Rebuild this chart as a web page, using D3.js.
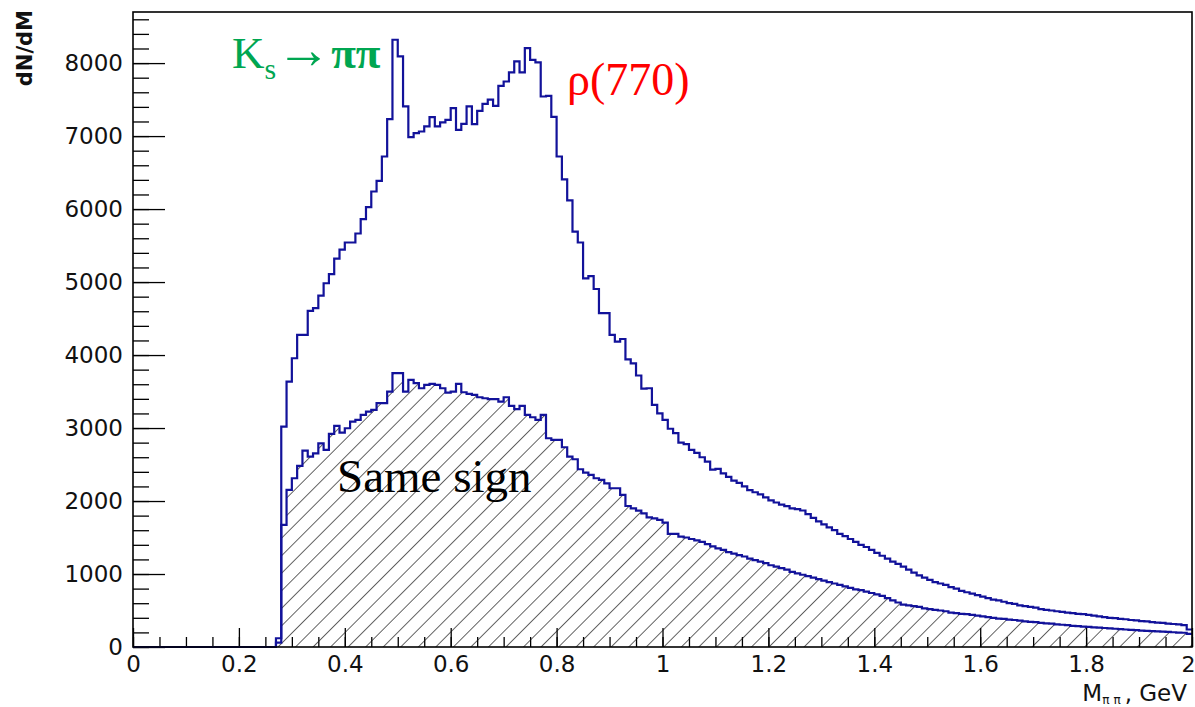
<!DOCTYPE html>
<html>
<head>
<meta charset="utf-8">
<script src="https://cdn.jsdelivr.net/npm/d3@7"></script>
<style>
  body { margin: 0; background: #fff; }
  svg { display: block; }
</style>
</head>
<body>
<svg id="chart" width="1195" height="707"></svg>
<script>
// Invariant-mass spectrum of pion pairs, 200 bins of 10 MeV from 0 to 2 GeV.
const binEdges = [0, 2];
const nBins = 200;

// Opposite-sign pairs, counts per bin
const allPairs = [
  0,0,0,0,0,0,0,0,0,0, 0,0,0,0,0,0,0,0,0,0, 0,0,0,0,0,0,0,120,3020,3636,
  3956,4276,4276,4605,4642,4815,4984,5110,5320,5445, 5542,5542,5665,5862,6026,6241,6387,6720,7232,8320,
  8091,7406,6986,7040,7063,7132,7260,7132,7187,7223, 7383,7086,7168,7406,7164,7346,7442,7500,7415,7689,
  7748,7872,8023,7872,8205,8045,8010,7542,7550,7264, 6720,6408,6118,5692,5542,5050,5080,4905,4575,4575,
  4276,4185,4220,3940,3885,3720,3540,3545,3317,3202,
  3111,2990,2930,2800,2780,2700,2660,2600,2540,2430, 2440,2380,2330,2280,2250,2200,2150,2120,2090,2050,
  2010,1980,1950,1930,1900,1890,1870,1820,1770,1720, 1680,1640,1600,1550,1520,1480,1440,1400,1370,1330,
  1290,1250,1210,1170,1140,1100,1060,1020,980,950, 920,890,870,850,820,800,770,750,730,710,
  690,670,650,640,620,600,590,570,560,550, 540,520,510,500,490,480,470,465,455,450,
  440,430,420,410,400,395,385,380,370,365, 355,350,340,335,330,320,315,310,300,240
];

// Same-sign pairs, counts per bin
const sameSign = [
  0,0,0,0,0,0,0,0,0,0, 0,0,0,0,0,0,0,0,0,0, 0,0,0,0,0,0,0,60,1672,2152,
  2312,2481,2691,2609,2654,2791,2700,2919,3029,2938, 2997,3088,3111,3180,3225,3248,3340,3340,3500,3751,
  3751,3500,3660,3614,3545,3591,3605,3591,3545,3486, 3500,3605,3490,3468,3454,3422,3408,3395,3395,3363,
  3422,3303,3258,3303,3180,3148,3111,3180,2860,2837, 2837,2737,2609,2572,2435,2390,2358,2312,2289,2243,
  2175,2175,2083,1932,1900,1868,1832,1777,1763,1741,
  1704,1549,1549,1512,1500,1480,1460,1440,1410,1380, 1350,1330,1300,1280,1260,1240,1210,1190,1170,1150,
  1120,1100,1080,1060,1030,1010,990,970,950,930, 910,890,870,850,830,810,790,780,760,740,
  720,700,670,640,610,580,570,560,550,530, 520,510,500,490,470,465,455,450,440,430,
  420,410,400,390,385,375,370,360,350,345, 340,330,325,320,310,305,300,290,285,280,
  275,270,265,260,255,250,245,240,235,230, 225,222,218,214,210,206,202,198,195,180
];

const yTicks = [0, 1000, 2000, 3000, 4000, 5000, 6000, 7000, 8000];
const xTicks = [0, 0.2, 0.4, 0.6, 0.8, 1, 1.2, 1.4, 1.6, 1.8, 2];

const svg = d3.select("#chart");
const frame = { left: 133, right: 1192, top: 12, bottom: 647 };

const x = d3.scaleLinear().domain(binEdges).range([frame.left, frame.right]);
const y = d3.scaleLinear().domain([0, 8700]).range([frame.bottom, frame.top]);

const binWidth = (binEdges[1] - binEdges[0]) / nBins;
function stepPoints(values) {
  const pts = values.map((v, i) => [binEdges[0] + i * binWidth, v]);
  pts.push([binEdges[1], values[values.length - 1]]);
  return pts;
}

const lineColor = "#12129a";

// Hatch pattern for the same-sign histogram
const defs = svg.append("defs");
const hatch = defs.append("pattern")
  .attr("id", "hatch")
  .attr("patternUnits", "userSpaceOnUse")
  .attr("width", 12.4)
  .attr("height", 12.4)
  .attr("patternTransform", "translate(" + (frame.left + 4) + "," + frame.bottom + ") rotate(45)");
hatch.append("line")
  .attr("x1", 0).attr("y1", -2).attr("x2", 0).attr("y2", 15)
  .attr("stroke", "#111").attr("stroke-width", 1.3);

const area = d3.area()
  .x(d => x(d[0]))
  .y0(y(0))
  .y1(d => y(d[1]))
  .curve(d3.curveStepAfter);

const line = d3.line()
  .x(d => x(d[0]))
  .y(d => y(d[1]))
  .curve(d3.curveStepAfter);

// Axes (ticks point inward)
const yMinor = d3.range(0, 8701, 200);
const xMinor = d3.range(0, 2.0001, 0.05);

const gy = svg.append("g").attr("transform", `translate(${frame.left},0)`);
gy.call(d3.axisLeft(y).tickValues(yMinor).tickSize(-16).tickFormat(""));
gy.call(g => g.select(".domain").remove());
const gyMaj = svg.append("g").attr("transform", `translate(${frame.left},0)`);
gyMaj.call(d3.axisLeft(y).tickValues(yTicks).tickSize(-32).tickPadding(10).tickFormat(d3.format("d")));
gyMaj.select(".domain").remove();

const gx = svg.append("g").attr("transform", `translate(0,${frame.bottom})`);
gx.call(d3.axisBottom(x).tickValues(xMinor).tickSize(-10).tickFormat(""));
gx.select(".domain").remove();
const gxMaj = svg.append("g").attr("transform", `translate(0,${frame.bottom})`);
gxMaj.call(d3.axisBottom(x).tickValues(xTicks).tickSize(-19).tickPadding(9).tickFormat(d => d3.format("~g")(d)));
gxMaj.select(".domain").remove();

svg.selectAll(".tick line").attr("stroke", "#000").attr("stroke-width", 1.3);
svg.selectAll(".tick text")
  .attr("font-family", "'DejaVu Sans', sans-serif")
  .attr("font-size", 23)
  .attr("fill", "#111");
// keep the last x label inside the page
gxMaj.selectAll(".tick text").filter(d => d === 2).attr("dx", -4).attr("font-size", 22);

// Histograms
svg.append("path")
  .datum(stepPoints(allPairs))
  .attr("d", line)
  .attr("fill", "none")
  .attr("stroke", lineColor)
  .attr("stroke-width", 2.2);

svg.append("path")
  .datum(stepPoints(sameSign))
  .attr("d", area)
  .attr("fill", "url(#hatch)");

svg.append("path")
  .datum(stepPoints(sameSign))
  .attr("d", line)
  .attr("fill", "none")
  .attr("stroke", lineColor)
  .attr("stroke-width", 2.2);

// Frame
svg.append("rect")
  .attr("x", frame.left).attr("y", frame.top)
  .attr("width", frame.right - frame.left)
  .attr("height", frame.bottom - frame.top)
  .attr("fill", "none")
  .attr("stroke", "#000")
  .attr("stroke-width", 1.6);

// Axis titles
svg.append("text")
  .attr("transform", "translate(32,10) rotate(-90)")
  .attr("text-anchor", "end")
  .attr("font-family", "'DejaVu Sans', sans-serif")
  .attr("font-weight", "bold")
  .attr("font-size", 21)
  .attr("fill", "#111")
  .text("dN/dM");

const xt = svg.append("text")
  .attr("x", 1187).attr("y", 701)
  .attr("text-anchor", "end")
  .attr("font-family", "'DejaVu Sans', sans-serif")
  .attr("font-size", 23)
  .attr("fill", "#111");
xt.append("tspan").text("M");
xt.append("tspan").attr("font-size", 12).attr("dy", 3).attr("letter-spacing", 4).text("ππ");
xt.append("tspan").attr("dy", -3).text(", GeV");

// Annotations
const serif = "'Liberation Serif', 'Times New Roman', serif";
const ks = svg.append("text")
  .attr("x", 232).attr("y", 68)
  .attr("font-family", serif)
  .attr("font-size", 45)
  .attr("fill", "#00a651");
ks.append("tspan").text("K");
ks.append("tspan").attr("font-size", 30).attr("dy", 11).text("s");
ks.append("tspan").attr("dy", -11).attr("font-size", 55).text("→");
ks.append("tspan").attr("font-weight", "bold").attr("font-size", 45).text("ππ");

svg.append("text")
  .attr("x", 567).attr("y", 95)
  .attr("font-family", serif)
  .attr("font-size", 46)
  .attr("fill", "#ff0000")
  .text("ρ(770)");

svg.append("text")
  .attr("x", 337).attr("y", 492)
  .attr("font-family", serif)
  .attr("font-size", 47)
  .attr("fill", "#000")
  .text("Same sign");
</script>
</body>
</html>
